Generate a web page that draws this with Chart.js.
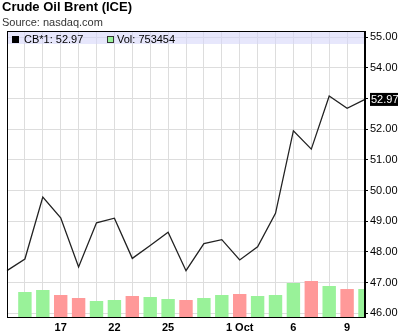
<!DOCTYPE html>
<html>
<head>
<meta charset="utf-8">
<script src="https://cdn.jsdelivr.net/npm/chart.js@4.4.1/dist/chart.umd.min.js"></script>
<style>
    html, body { margin: 0; padding: 0; background: #fff; }
    #wrap { width: 400px; height: 336px; position: relative; }
</style>
</head>
<body>
<div id="wrap"><canvas id="oilChart" width="400" height="336"></canvas></div>
<script>
// trading days, 12 Sep .. 10 Oct
var days = ["12", "15", "16", "17", "18", "19", "22", "23", "24", "25", "26", "29", "30",
    "1 Oct", "2", "3", "6", "7", "8", "9", "10"];
var shownDays = ["17", "22", "25", "1 Oct", "6", "9"];
var prices = [47.39, 47.77, 49.79, 49.11, 47.51, 48.95, 49.10, 47.79, 48.21, 48.64, 47.39,
    48.27, 48.40, 47.74, 48.17, 49.26, 51.95, 51.35, 53.08, 52.68, 52.97];
var volumes = [null, 673000, 727000, 592000, 511000, 431000, 457000, 565000, 538000, 484000, 457000,
    511000, 592000, 619000, 565000, 592000, 915000, 969000, 834000, 753000, 753454];
var priceTicks = [46, 47, 48, 49, 50, 51, 52, 53, 54, 55];

var FONT = "'Liberation Sans', Arial, sans-serif";

// green when the close went up, red when it went down
var barColors = prices.map(function (p, i) {
    if (i === 0) return "#99f299";
    return p >= prices[i - 1] ? "#99f299" : "#ff9999";
});

const chartDecor = {
    id: "chartDecor",
    beforeDatasetsDraw(chart) {
        const { ctx, chartArea: { left, top, right } } = chart;
        ctx.save();
        ctx.fillStyle = "rgba(215,215,250,0.6)";
        ctx.fillRect(left, top, right - left, 13);
        ctx.restore();
    },
    afterDraw(chart) {
        const { ctx, chartArea: { left, top, right, bottom } } = chart;
        ctx.save();
        // frame
        ctx.strokeStyle = "#000";
        ctx.lineWidth = 1;
        ctx.strokeRect(left + 0.5, top + 0.5, right - left - 1, bottom - top);

        // title + source
        ctx.fillStyle = "#000";
        ctx.textBaseline = "alphabetic";
        ctx.font = "bold 13px " + FONT;
        ctx.fillText("Crude Oil Brent (ICE)", 2, 11);
        ctx.fillStyle = "#333";
        ctx.font = "11px " + FONT;
        ctx.fillText("Source: nasdaq.com", 2, 26);

        // legend in the band
        var last = prices[prices.length - 1];
        ctx.fillStyle = "#000";
        ctx.fillRect(12, 36, 7, 7);
        ctx.font = "11px " + FONT;
        ctx.fillText("CB*1: " + last.toFixed(2), 24, 43);
        ctx.fillStyle = "#99f299";
        ctx.fillRect(107, 36, 7, 7);
        ctx.strokeStyle = "#333";
        ctx.strokeRect(107.5, 36.5, 6, 6);
        ctx.fillStyle = "#000";
        ctx.fillText("Vol: " + volumes[volumes.length - 1], 117, 43);

        // last value marker on the price axis
        var y = chart.scales.y.getPixelForValue(last);
        ctx.fillStyle = "#000";
        ctx.fillRect(right + 5, y - 6.5, 28, 13);
        ctx.fillStyle = "#fff";
        ctx.textBaseline = "middle";
        ctx.fillText(last.toFixed(2), right + 6, y + 0.5);
        ctx.restore();
    },
};

var ctx = document.getElementById("oilChart");
var oilChart = new Chart(ctx, {
    type: "line",
    data: {
        labels: days,
        datasets: [
            {
                type: "line",
                label: "CB*1",
                data: prices,
                borderColor: "#222",
                borderWidth: 1.3,
                pointRadius: 0,
                tension: 0,
                yAxisID: "y",
                order: 0,
            },
            {
                type: "bar",
                label: "Vol",
                data: volumes,
                backgroundColor: barColors,
                borderWidth: 0,
                barPercentage: 0.75,
                categoryPercentage: 1,
                yAxisID: "y2",
                order: 1,
            },
        ],
    },
    options: {
        responsive: false,
        animation: false,
        layout: { padding: { left: 7, top: 31, right: 0, bottom: 0 } },
        plugins: {
            legend: { display: false },
            tooltip: { enabled: false },
        },
        scales: {
            x: {
                type: "category",
                offset: false,
                grid: { color: "#dddddd", offset: false, drawTicks: false },
                border: { color: "#000" },
                ticks: {
                    autoSkip: false,
                    maxRotation: 0,
                    padding: 4,
                    color: "#000",
                    font: { family: FONT, size: 11, weight: "bold" },
                    callback: function (val, i) {
                        var d = days[i];
                        return shownDays.indexOf(d) >= 0 ? d : "";
                    },
                },
                afterFit: function (scale) { scale.height = 19; },
            },
            y: {
                position: "right",
                min: 45.88,
                max: 55.2,
                grid: { color: "#dddddd", tickColor: "#000", tickLength: 3 },
                border: { color: "#000" },
                ticks: {
                    includeBounds: false,
                    stepSize: 1,
                    padding: 2,
                    color: "#000",
                    font: { family: FONT, size: 11 },
                    callback: function (v) {
                        return priceTicks.indexOf(v) >= 0 ? v.toFixed(2) : "";
                    },
                },
                afterFit: function (scale) { scale.width = 35; },
            },
            y2: {
                display: false,
                min: 0,
                max: 7700000,
            },
        },
    },
    plugins: [chartDecor],
});
</script>
</body>
</html>
